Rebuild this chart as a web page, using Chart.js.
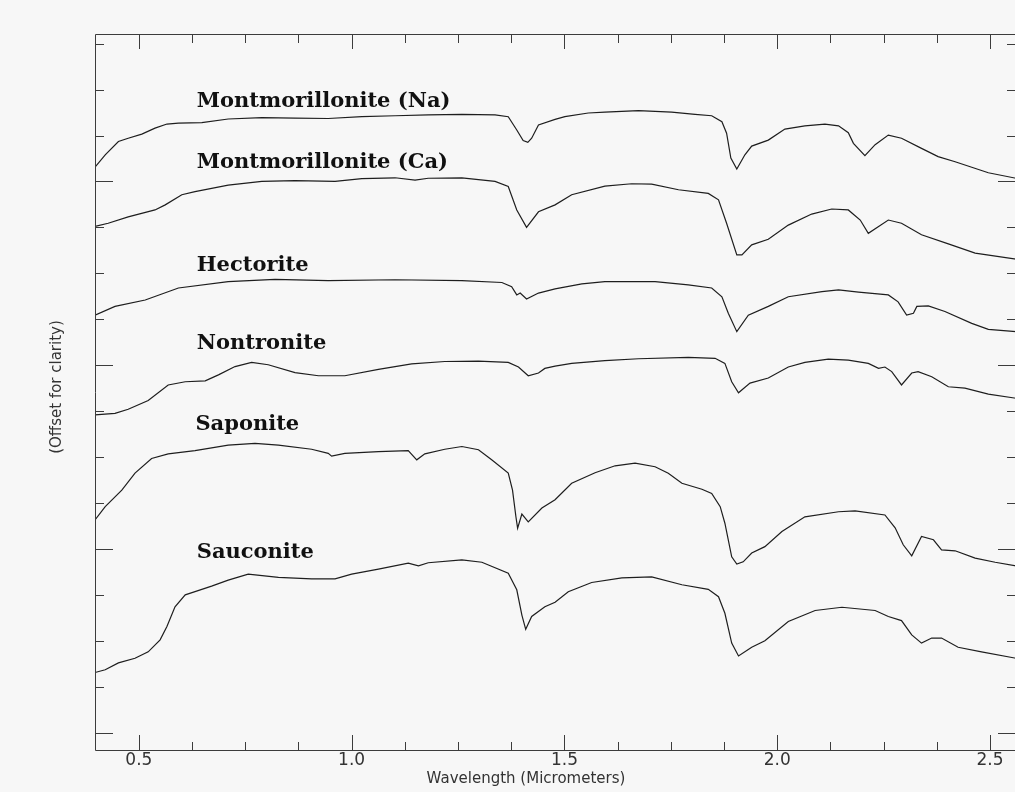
<!DOCTYPE html>
<html>
<head>
    <title>Smectite spectra</title>
    <script src="https://cdn.jsdelivr.net/npm/chart.js"></script>
    <style>
        html, body { margin: 0; padding: 0; background: #f7f7f7; overflow: hidden; }
        canvas { display: block; }
    </style>
</head>
<body>
    <canvas id="specChart" width="1020" height="792" style="width:1020px;height:792px"></canvas>
    <script>
        // wavelength (micrometers) and offset reflectance for each sample
        const naWave = [0.397,0.421,0.452,0.475,0.507,0.538,0.566,0.593,0.648,0.710,0.789,0.867,0.945,1.024,1.102,1.180,1.259,1.337,1.368,1.388,1.403,1.414,1.423,1.439,1.478,1.501,1.556,1.595,1.674,1.752,1.807,1.846,1.870,1.881,1.891,1.905,1.924,1.940,1.979,2.018,2.065,2.112,2.144,2.167,2.179,2.206,2.230,2.261,2.292,2.339,2.378,2.418,2.457,2.496,2.561];
        const naRefl = [12.31,12.58,12.87,12.94,13.03,13.16,13.25,13.27,13.28,13.36,13.39,13.38,13.37,13.41,13.43,13.45,13.46,13.45,13.41,13.12,12.89,12.85,12.94,13.23,13.35,13.41,13.49,13.51,13.54,13.51,13.46,13.43,13.30,13.05,12.51,12.27,12.58,12.77,12.90,13.14,13.21,13.25,13.21,13.06,12.83,12.56,12.80,13.01,12.94,12.72,12.54,12.43,12.31,12.19,12.07];

        const caWave = [0.397,0.428,0.475,0.538,0.562,0.601,0.632,0.710,0.789,0.867,0.961,1.024,1.102,1.149,1.180,1.259,1.337,1.368,1.388,1.411,1.439,1.478,1.517,1.595,1.658,1.705,1.768,1.838,1.862,1.881,1.905,1.917,1.940,1.979,2.026,2.081,2.128,2.167,2.195,2.214,2.261,2.292,2.339,2.402,2.465,2.561];
        const caRefl = [11.02,11.09,11.23,11.38,11.49,11.71,11.78,11.92,12.00,12.02,12.00,12.06,12.08,12.03,12.07,12.08,12.00,11.89,11.38,11.00,11.34,11.49,11.71,11.90,11.95,11.94,11.82,11.74,11.60,11.09,10.40,10.40,10.62,10.74,11.05,11.29,11.40,11.38,11.16,10.87,11.16,11.09,10.84,10.64,10.44,10.31];

        const hecWave = [0.397,0.444,0.515,0.593,0.710,0.820,0.945,1.102,1.259,1.353,1.376,1.388,1.396,1.411,1.439,1.478,1.541,1.595,1.713,1.791,1.846,1.870,1.885,1.905,1.932,1.979,2.026,2.105,2.144,2.191,2.261,2.284,2.304,2.320,2.328,2.355,2.394,2.457,2.496,2.561];
        const hecRefl = [9.09,9.28,9.42,9.68,9.82,9.87,9.84,9.86,9.84,9.80,9.71,9.53,9.57,9.44,9.57,9.66,9.77,9.82,9.82,9.75,9.68,9.49,9.13,8.73,9.09,9.28,9.49,9.60,9.64,9.59,9.53,9.38,9.09,9.13,9.28,9.29,9.17,8.91,8.78,8.73];

        const nonWave = [0.397,0.444,0.475,0.522,0.569,0.609,0.656,0.687,0.726,0.765,0.804,0.867,0.922,0.984,1.063,1.141,1.219,1.298,1.368,1.392,1.415,1.439,1.454,1.478,1.517,1.595,1.674,1.791,1.854,1.877,1.893,1.909,1.936,1.979,2.026,2.065,2.120,2.167,2.214,2.238,2.253,2.269,2.292,2.316,2.331,2.363,2.402,2.441,2.496,2.561];
        const nonRefl = [6.92,6.95,7.04,7.23,7.57,7.64,7.66,7.79,7.97,8.06,8.01,7.84,7.77,7.77,7.91,8.03,8.08,8.09,8.06,7.96,7.77,7.83,7.93,7.98,8.04,8.10,8.14,8.17,8.15,8.04,7.64,7.40,7.61,7.72,7.96,8.06,8.13,8.11,8.04,7.93,7.96,7.86,7.57,7.83,7.86,7.75,7.53,7.50,7.37,7.28];

        const sapWave = [0.397,0.421,0.460,0.491,0.530,0.569,0.632,0.710,0.773,0.828,0.906,0.945,0.953,0.984,1.063,1.133,1.153,1.172,1.219,1.259,1.298,1.329,1.368,1.378,1.386,1.390,1.400,1.415,1.447,1.478,1.517,1.572,1.619,1.666,1.713,1.744,1.776,1.823,1.846,1.866,1.877,1.893,1.905,1.920,1.940,1.971,2.011,2.065,2.144,2.183,2.253,2.277,2.296,2.316,2.339,2.367,2.386,2.418,2.465,2.512,2.561];
        const sapRefl = [4.63,4.92,5.28,5.65,5.97,6.07,6.14,6.26,6.30,6.26,6.17,6.08,6.02,6.08,6.12,6.14,5.94,6.07,6.17,6.23,6.16,5.94,5.65,5.28,4.70,4.45,4.76,4.59,4.89,5.07,5.43,5.66,5.81,5.87,5.79,5.65,5.43,5.30,5.21,4.92,4.56,3.83,3.67,3.72,3.91,4.05,4.38,4.70,4.81,4.83,4.74,4.46,4.09,3.85,4.27,4.20,3.98,3.96,3.80,3.71,3.63];

        const sauWave = [0.397,0.421,0.452,0.491,0.522,0.550,0.566,0.585,0.609,0.632,0.671,0.710,0.757,0.828,0.906,0.961,1.000,1.063,1.133,1.157,1.180,1.259,1.306,1.368,1.388,1.400,1.409,1.423,1.454,1.478,1.509,1.564,1.635,1.705,1.776,1.838,1.862,1.877,1.893,1.909,1.940,1.971,2.026,2.089,2.152,2.230,2.261,2.292,2.316,2.339,2.363,2.386,2.425,2.480,2.561];
        const sauRefl = [1.31,1.37,1.52,1.62,1.76,2.02,2.31,2.74,3.00,3.07,3.19,3.32,3.45,3.38,3.35,3.35,3.45,3.56,3.69,3.63,3.70,3.76,3.71,3.47,3.11,2.56,2.25,2.53,2.74,2.84,3.07,3.27,3.37,3.39,3.22,3.12,2.96,2.60,1.95,1.67,1.86,2.00,2.42,2.66,2.73,2.66,2.53,2.44,2.13,1.95,2.06,2.06,1.86,1.76,1.62];

        const sampleNames = ['Montmorillonite (Na)', 'Montmorillonite (Ca)', 'Hectorite', 'Nontronite', 'Saponite', 'Sauconite'];
        const nameX = [0.636, 0.636, 0.636, 0.636, 0.633, 0.636];
        const nameY = [13.62, 12.29, 10.06, 8.35, 6.59, 3.80];

        const xTickValues = [0.5, 1.0, 1.5, 2.0, 2.5];
        const xTickLabels = ['0.5', '1.0', '1.5', '2.0', '2.5'];

        const waves = [naWave, caWave, hecWave, nonWave, sapWave, sauWave];
        const refls = [naRefl, caRefl, hecRefl, nonRefl, sapRefl, sauRefl];

        const datasets = sampleNames.map((name, i) => ({
            label: name,
            data: waves[i].map((w, j) => ({ x: w, y: refls[i][j] })),
            borderColor: '#1e1e1e',
            borderWidth: 1.2,
            pointRadius: 0,
            tension: 0,
            fill: false
        }));

        const frameColor = '#3c3c3c';

        const idlFrame = {
            id: 'idlFrame',
            beforeDraw(chart) {
                const ctx = chart.ctx;
                ctx.save();
                ctx.fillStyle = '#f7f7f7';
                ctx.fillRect(0, 0, chart.width, chart.height);
                ctx.restore();
            },
            afterDraw(chart) {
                const ctx = chart.ctx;
                const a = chart.chartArea;
                const xs = chart.scales.x, ys = chart.scales.y;
                ctx.save();
                ctx.strokeStyle = frameColor;
                ctx.lineWidth = 1;
                ctx.beginPath();
                ctx.rect(Math.round(a.left) + 0.5, Math.round(a.top) + 0.5, Math.round(a.right - a.left), Math.round(a.bottom - a.top));
                ctx.stroke();

                // x ticks, bottom and top, minor every 0.125
                ctx.beginPath();
                for (let k = 0; k <= 20; k++) {
                    const v = 0.375 + k * 0.125;
                    if (v < xs.min || v > xs.max) continue;
                    const px = Math.round(xs.getPixelForValue(v)) + 0.5;
                    const major = Math.abs(v * 2 - Math.round(v * 2)) < 1e-6;
                    ctx.moveTo(px, a.bottom);
                    ctx.lineTo(px, a.bottom - (major ? 15 : 8));
                    ctx.moveTo(px, a.top);
                    ctx.lineTo(px, a.top + (major ? 15 : 9));
                }
                // y ticks, left and right
                for (let k = 0; k <= 15; k++) {
                    const py = Math.round(ys.getPixelForValue(k)) + 0.5;
                    const major = k % 4 === 0;
                    ctx.moveTo(a.left, py);
                    ctx.lineTo(a.left + (major ? 18 : 9), py);
                    ctx.moveTo(a.right, py);
                    ctx.lineTo(a.right - (major ? 18 : 9), py);
                }
                ctx.stroke();

                // tick labels
                ctx.fillStyle = '#333';
                ctx.font = '17px "DejaVu Sans"';
                ctx.textAlign = 'center';
                ctx.textBaseline = 'top';
                xTickValues.forEach((v, i) => {
                    ctx.fillText(xTickLabels[i], xs.getPixelForValue(v), 752);
                });

                // axis titles
                ctx.font = '15px "DejaVu Sans"';
                ctx.textBaseline = 'alphabetic';
                ctx.fillText('Wavelength (Micrometers)', 526, 783);
                ctx.save();
                ctx.translate(61, 387);
                ctx.rotate(-Math.PI / 2);
                ctx.fillText('(Offset for clarity)', 0, 0);
                ctx.restore();

                // sample names
                ctx.fillStyle = '#111';
                ctx.font = 'bold 21px "DejaVu Serif"';
                ctx.textAlign = 'left';
                sampleNames.forEach((name, i) => {
                    ctx.fillText(name, xs.getPixelForValue(nameX[i]), ys.getPixelForValue(nameY[i]));
                });
                ctx.restore();
            }
        };

        new Chart(document.getElementById('specChart'), {
            type: 'line',
            data: { datasets: datasets },
            options: {
                responsive: false,
                animation: false,
                devicePixelRatio: 1,
                layout: { padding: { left: 95, top: 34, right: 4, bottom: 42 } },
                plugins: { legend: { display: false }, tooltip: { enabled: false } },
                scales: {
                    x: { type: 'linear', min: 0.397, max: 2.561, display: false },
                    y: { type: 'linear', min: -0.377, max: 15.21, display: false }
                }
            },
            plugins: [idlFrame]
        });
    </script>
</body>
</html>
